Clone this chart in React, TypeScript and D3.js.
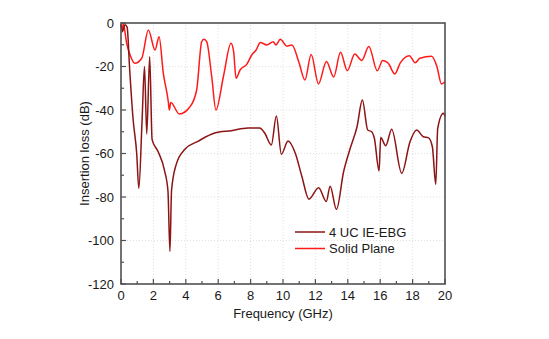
import React from "react";
import * as d3 from "d3";

// frequency (GHz) / insertion loss (dB)
const freqEBG = [0, 0.08, 0.25, 0.38, 0.53, 0.74, 0.97, 1.1, 1.3, 1.45, 1.59, 1.77, 1.92, 2.28, 2.7, 2.9, 3.02, 3.12, 3.41, 3.93, 4.75, 5.78, 6.81, 7.84, 8.56, 8.87, 9.28, 9.59, 9.9, 10.31, 10.76, 11.17, 11.6, 12.2, 12.67, 12.91, 13.3, 13.74, 14.15, 14.57, 14.9, 15.23, 15.47, 15.64, 15.93, 16.03, 16.34, 16.71, 17.33, 17.84, 18.25, 18.66, 18.97, 19.22, 19.43, 19.55, 19.9, 20];
const lossEBG = [-0.5, -4, -0.8, -2, -20.7, -43.7, -60, -76, -45, -20, -51, -15.5, -53.6, -59, -68.2, -77.4, -105, -77, -65, -58.2, -54.4, -50.6, -49.5, -48.3, -48.3, -50.6, -56.1, -42.8, -60.3, -54.3, -59.9, -70.7, -81, -75.7, -82.1, -75, -85.7, -68.4, -57.6, -47.7, -35.4, -49.2, -50, -53, -68, -52.7, -56.4, -48.9, -69.1, -54.6, -49.2, -52.3, -52.7, -56.9, -74.2, -48.4, -41.5, -43];

const freqSolid = [0, 0.06, 0.14, 0.35, 0.56, 0.86, 1.28, 1.69, 2.1, 2.35, 2.61, 2.92, 2.98, 3.07, 3.6, 4.26, 4.67, 4.98, 5.12, 5.29, 5.6, 5.86, 6.32, 6.79, 6.95, 7.1, 7.35, 7.76, 8.07, 8.35, 8.6, 9.0, 9.4, 9.56, 9.84, 10.23, 10.55, 11.0, 11.35, 11.74, 12.19, 12.68, 13.13, 13.55, 13.97, 14.43, 14.86, 15.3, 15.82, 16.15, 16.5, 16.9, 17.24, 17.8, 18.16, 18.45, 19.17, 19.5, 19.78, 20];
const lossSolid = [-1, -3, -0.5, -9.3, -14.7, -18.5, -16.2, -3.2, -12.4, -6.3, -23, -36.2, -40, -36.6, -41.8, -38.5, -30.8, -8.6, -7.5, -8.6, -24.7, -40, -24.7, -9.3, -13, -25.4, -21.6, -19, -14.7, -12.3, -9, -10.1, -8.6, -10.1, -7.5, -10.6, -10.1, -18.5, -26.2, -14.5, -28, -17.7, -24.8, -13.5, -21.9, -14.3, -17.2, -10.8, -22, -17.2, -18.5, -23.4, -18.3, -15, -18.3, -16.2, -15.3, -20, -28, -27];

const xTicks = [0, 2, 4, 6, 8, 10, 12, 14, 16, 18, 20];
const yTicks = [0, -20, -40, -60, -80, -100, -120];
const seriesNames = ["4 UC IE-EBG", "Solid Plane"];

const W = 549, H = 339;
const margin = { top: 23, right: 104, bottom: 55, left: 121 };
const font = "'Liberation Sans', Arial, sans-serif";

export default function App() {
  const x = d3.scaleLinear().domain([0, 20]).range([margin.left, W - margin.right]);
  const y = d3.scaleLinear().domain([-120, 0]).range([H - margin.bottom, margin.top]);

  const line = d3.line<[number, number]>()
    .x(d => x(d[0]))
    .y(d => y(d[1]))
    .curve(d3.curveMonotoneX);

  const ebg = line(freqEBG.map((f, i) => [f, lossEBG[i]]) as [number, number][]);
  const solid = line(freqSolid.map((f, i) => [f, lossSolid[i]]) as [number, number][]);

  const x0 = x(0), x1 = x(20), y0 = y(-120), y1 = y(0);
  const minorX = d3.range(1, 20, 2);
  const minorY = d3.range(-110, 0, 20);
  const colors = ["#8c1414", "#ff1a1a"];

  return (
    <svg width={W} height={H} style={{ position: "absolute", left: 0, top: 0, background: "#fff" }}>
      {/* grid */}
      <g stroke="#d8d8d8" strokeWidth={0.8} strokeDasharray="1,2">
        {xTicks.slice(1, -1).map(t => <line key={"gx" + t} x1={x(t)} x2={x(t)} y1={y0} y2={y1} />)}
        {yTicks.slice(1, -1).map(t => <line key={"gy" + t} x1={x0} x2={x1} y1={y(t)} y2={y(t)} />)}
      </g>

      <path d={solid || ""} fill="none" stroke={colors[1]} strokeWidth={1.5} />
      <path d={ebg || ""} fill="none" stroke={colors[0]} strokeWidth={1.5} />

      {/* frame */}
      <rect x={x0} y={y1} width={x1 - x0} height={y0 - y1} fill="none" stroke="#505050" strokeWidth={1.6} />

      {/* ticks, pointing inside */}
      <g stroke="#505050" strokeWidth={1.2}>
        {xTicks.map(t => <line key={"tx" + t} x1={x(t)} x2={x(t)} y1={y0} y2={y0 - 5} />)}
        {minorX.map(t => <line key={"mx" + t} x1={x(t)} x2={x(t)} y1={y0} y2={y0 - 3} />)}
        {yTicks.map(t => <line key={"ty" + t} x1={x0} x2={x0 + 5} y1={y(t)} y2={y(t)} />)}
        {minorY.map(t => <line key={"my" + t} x1={x0} x2={x0 + 3} y1={y(t)} y2={y(t)} />)}
      </g>

      <g fontFamily={font} fontSize={13} fill="#1a1a1a">
        {xTicks.map(t => (
          <text key={"lx" + t} x={x(t)} y={y0 + 16} textAnchor="middle">{t}</text>
        ))}
        {yTicks.map(t => (
          <text key={"ly" + t} x={x0 - 7} y={y(t) + 4.5} textAnchor="end">{t}</text>
        ))}
        <text x={(x0 + x1) / 2} y={318} textAnchor="middle">Frequency (GHz)</text>
        <text transform={`translate(89,${(y0 + y1) / 2}) rotate(-90)`} textAnchor="middle">Insertion loss (dB)</text>

        {seriesNames.map((n, i) => (
          <g key={n}>
            <line x1={295} x2={325} y1={232 + i * 16.5} y2={232 + i * 16.5} stroke={colors[i]} strokeWidth={1.5} />
            <text x={329} y={232 + i * 16.5 + 4.5}>{n}</text>
          </g>
        ))}
      </g>
    </svg>
  );
}
